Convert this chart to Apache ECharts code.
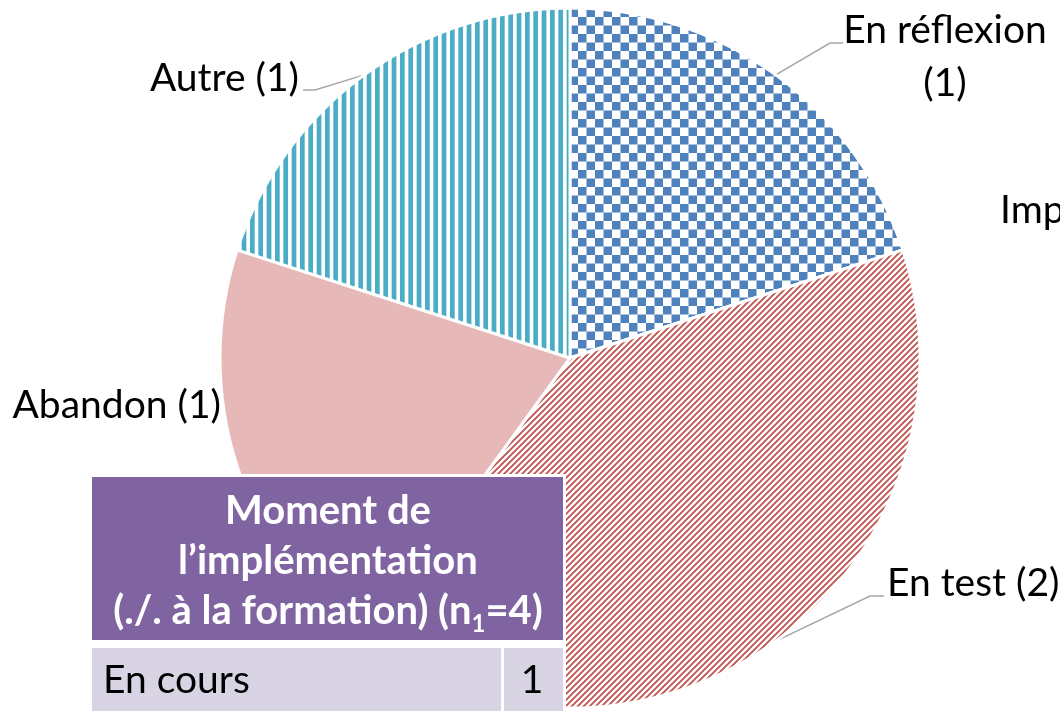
<!DOCTYPE html>
<html>
<head>
<meta charset="utf-8">
<script src="https://cdn.jsdelivr.net/npm/echarts@6/dist/echarts.min.js"></script>
<style>
  html, body { margin: 0; padding: 0; background: #fff; }
  #chart { width: 1060px; height: 711px; }
</style>
</head>
<body>
<div id="chart"></div>
<script>
// data
const categories = ['En réflexion', 'Implémenté', 'En test', 'Abandon', 'Autre'];
const counts = [1, 0, 2, 1, 1];

const tableTitle = ['Moment de', 'l\u2019implémentation', '(./. à la formation) (n{sub|1}=4)'];
const tableRowLabel = 'En cours';
const tableRowValue = 1;

// small canvas tiles for the hatch fills
function tile(w, h, draw) {
    const c = document.createElement('canvas');
    c.width = w; c.height = h;
    const ctx = c.getContext('2d');
    ctx.fillStyle = '#fff';
    ctx.fillRect(0, 0, w, h);
    draw(ctx);
    return { image: c, repeat: 'repeat' };
}

const checker = tile(17, 17, ctx => {
    ctx.fillStyle = '#4f81bd';
    ctx.fillRect(0, 0, 8.5, 8.5);
    ctx.fillRect(8.5, 8.5, 8.5, 8.5);
});
const diag = tile(6, 6, ctx => {
    ctx.strokeStyle = '#c0504d';
    ctx.lineWidth = 1.8;
    ctx.beginPath();
    ctx.moveTo(-1, 7); ctx.lineTo(7, -1);
    ctx.moveTo(-1, 1); ctx.lineTo(1, -1);
    ctx.moveTo(5, 7); ctx.lineTo(7, 5);
    ctx.stroke();
});
// three stripes per 25px tile, ~8.3px apart
const vstripes = tile(25, 4, ctx => {
    ctx.fillStyle = '#4bacc6';
    for (let k = 0; k < 3; k++) ctx.fillRect(k * 25 / 3, 0, 4.7, 4);
});
const fills = [checker, '#ffffff', diag, '#e6b9b8', vstripes];

const chart = echarts.init(document.getElementById('chart'));

// where Excel put each label (anchor, alignment, bend of the leader line)
const labelSpots = [
    { x: 945, y: 57, align: 'center', bend: [[830, 43], [843, 43]] },
    { x: 1000, y: 210, align: 'left' },
    { x: 887, y: 583, align: 'left', bend: [[870, 596], [884, 596]] },
    { x: 221, y: 405, align: 'right' },
    { x: 299, y: 78, align: 'right', bend: [[315, 90], [303, 90]] }
];

const option = {
    animation: false,
    series: [{
        type: 'pie',
        center: [570, 358],
        radius: 350,
        startAngle: 90,
        clockwise: true,
        avoidLabelOverlap: false,
        emphasis: { disabled: true },
        itemStyle: { borderColor: '#fff', borderWidth: 3 },
        label: {
            show: true,
            position: 'outside',
            color: '#000',
            fontFamily: 'Lato',
            fontSize: 39,
            lineHeight: 53,
            formatter: p => p.name + (p.dataIndex === 0 ? '\n' : ' ') + '(' + p.value + ')'
        },
        labelLine: {
            show: true,
            lineStyle: { color: '#a6a6a6', width: 1.5 }
        },
        labelLayout: function (params) {
            const s = labelSpots[params.dataIndex];
            const out = { x: s.x, y: s.y, align: s.align, verticalAlign: 'middle' };
            if (s.bend && params.labelLinePoints) {
                out.labelLinePoints = [params.labelLinePoints[0], s.bend[0], s.bend[1]];
            }
            return out;
        },
        data: categories.map((name, i) => ({
            name: name,
            value: counts[i],
            itemStyle: { color: fills[i] },
            labelLine: { show: !!labelSpots[i].bend }
        }))
    }],
    graphic: [
        { type: 'rect', z: 100, shape: { x: 89, y: 474, width: 477, height: 240 }, style: { fill: '#fff' } },
        { type: 'rect', z: 101, shape: { x: 92, y: 477, width: 471, height: 163 }, style: { fill: '#8064a2' } },
        { type: 'rect', z: 101, shape: { x: 92, y: 648, width: 409, height: 63 }, style: { fill: '#d9d4e3' } },
        { type: 'rect', z: 101, shape: { x: 504, y: 648, width: 59, height: 63 }, style: { fill: '#d9d4e3' } },
        {
            type: 'text', z: 102, x: 328, y: 561,
            style: {
                text: tableTitle.join('\n'),
                fill: '#fff',
                font: 'bold 40px Lato',
                lineHeight: 50,
                align: 'center',
                verticalAlign: 'middle',
                rich: {
                    sub: { fill: '#fff', font: 'bold 24px Lato', lineHeight: 30, verticalAlign: 'bottom' }
                }
            }
        },
        {
            type: 'text', z: 102, x: 103, y: 680,
            style: { text: tableRowLabel, fill: '#000', font: '39px Lato', verticalAlign: 'middle' }
        },
        {
            type: 'text', z: 102, x: 532, y: 680,
            style: { text: String(tableRowValue), fill: '#000', font: '39px Lato', align: 'center', verticalAlign: 'middle' }
        }
    ]
};

chart.setOption(option);
</script>
</body>
</html>
